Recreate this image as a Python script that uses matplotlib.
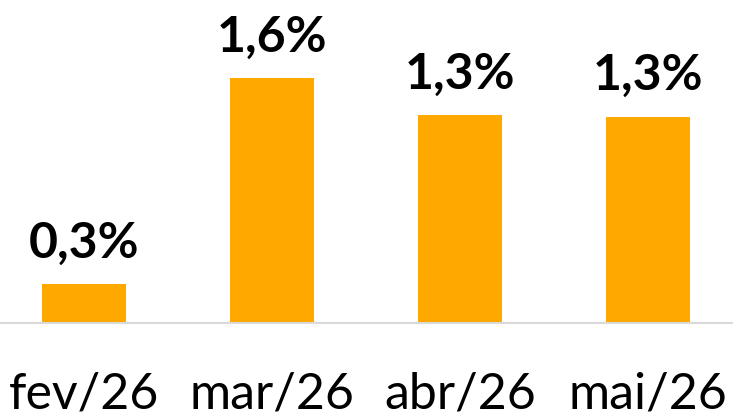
import matplotlib.pyplot as plt

# dados
meses = ["fev/26", "mar/26", "abr/26", "mai/26"]
valores = [0.34, 1.56, 1.34, 1.33]

plt.rcParams['font.family'] = ['Lato', 'DejaVu Sans']

fig = plt.figure(figsize=(7.33, 4.15), dpi=100)
ax = fig.add_axes([-10 / 733, 92 / 415, 752 / 733, 323 / 415])

x = range(len(meses))
barras = ax.bar(x, valores, width=0.447, color="#FFA800", zorder=2)

ax.set_xlim(-0.5, len(meses) - 0.5)
ax.set_ylim(0.11, 2.02)

# rotulos de dados
for b, v in zip(barras, valores):
    txt = "{:.1f}%".format(v).replace(".", ",")
    ax.annotate(txt, (b.get_x() + b.get_width() / 2, b.get_height() + b.get_y()),
                xytext=(0, 19), textcoords="offset points",
                ha="center", va="baseline", fontsize=36, fontweight="bold")

ax.set_xticks(list(x))
ax.set_xticklabels(meses, fontsize=36)
ax.tick_params(axis="x", length=0, pad=35)
ax.set_yticks([])

for lado in ["top", "left", "right"]:
    ax.spines[lado].set_visible(False)
ax.spines["bottom"].set_color("#D9D9D9")
ax.spines["bottom"].set_linewidth(1.5)

fig.savefig("out.png", dpi=100)
